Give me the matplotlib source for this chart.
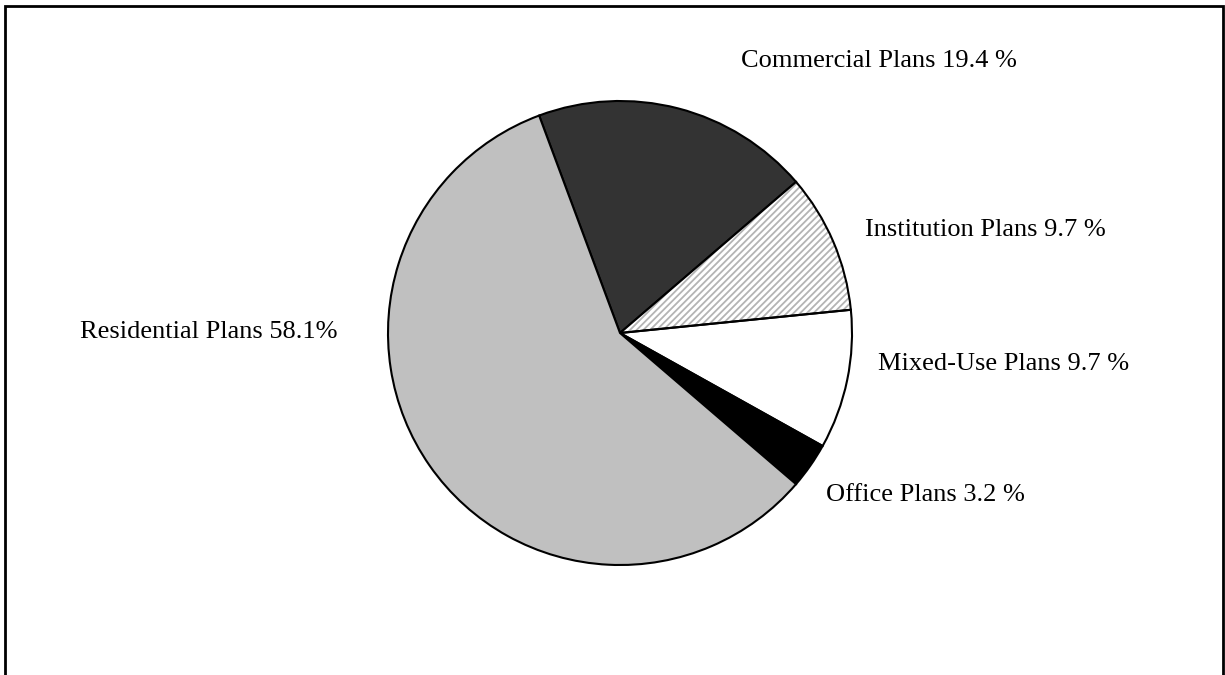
import matplotlib.pyplot as plt
from matplotlib.patches import Rectangle, Wedge

# plan types and their share of all plans (%)
categories = ["Commercial Plans", "Institution Plans", "Mixed-Use Plans",
              "Office Plans", "Residential Plans"]
shares = [19.4, 9.7, 9.7, 3.2, 58.1]
labels = ["Commercial Plans 19.4 %", "Institution Plans 9.7 %",
          "Mixed-Use Plans 9.7 %", "Office Plans 3.2 %",
          "Residential Plans 58.1%"]

colors = ["#333333", "white", "white", "black", "#c0c0c0"]

plt.rcParams["font.family"] = ["Liberation Serif", "DejaVu Serif"]
plt.rcParams["hatch.linewidth"] = 1.3

fig = plt.figure(figsize=(12.25, 6.75), dpi=100)

# outer frame
fig.patches.append(Rectangle((5 / 1225, -0.02), 1218 / 1225, 1.02 - 6 / 675,
                             transform=fig.transFigure, fill=False,
                             edgecolor="black", linewidth=2))

ax = fig.add_axes([388 / 1225, 110 / 675, 464 / 1225, 464 / 675])

wedges, _ = ax.pie(shares, colors=colors, startangle=110.4,
                   counterclock=False, radius=1,
                   wedgeprops=dict(edgecolor="black", linewidth=1.5))

# hatched institution slice: grey hatch, then black outline on top
w = wedges[1]
w.set_hatch("/////")
w.set_edgecolor("#b4b4b4")
w.set_linewidth(0)
ax.add_patch(Wedge(w.center, w.r, w.theta1, w.theta2, facecolor="none",
                   edgecolor="black", linewidth=1.5))

ax.set_xlim(-1, 1)
ax.set_ylim(-1, 1)

# label placement
label_pos = [(0.522, 1.172, "left"), (1.056, 0.443, "left"),
             (1.112, -0.135, "left"), (0.888, -0.700, "left"),
             (-1.216, 0.003, "right")]
for text, (x, y, ha) in zip(labels, label_pos):
    ax.text(x, y, text, ha=ha, va="center", fontsize=19, color="black")

fig.savefig("out.png", dpi=100)
